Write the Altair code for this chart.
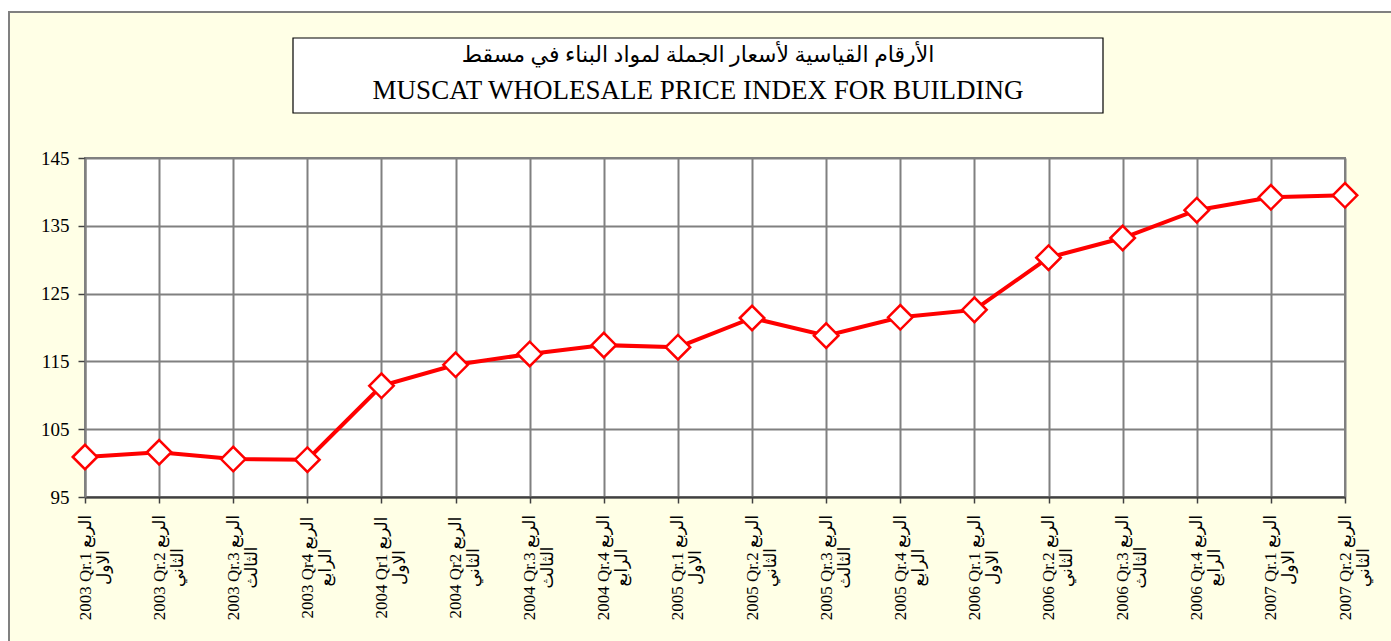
import altair as alt
import pandas as pd

# ---- data ----
periods = [
    "2003 Qr.1", "2003 Qr.2", "2003 Qr.3", "2003 Qr4",
    "2004 Qr1", "2004 Qr2", "2004 Qr.3", "2004 Qr.4",
    "2005 Qr.1", "2005 Qr.2", "2005 Qr.3", "2005 Qr.4",
    "2006 Qr.1", "2006 Qr.2", "2006 Qr.3", "2006 Qr.4",
    "2007 Qr.1", "2007 Qr.2",
]
quarters_ar = [
    "الاول", "الثاني", "الثالث", "الرابع",
    "الاول", "الثاني", "الثالث", "الرابع",
    "الاول", "الثاني", "الثالث", "الرابع",
    "الاول", "الثاني", "الثالث", "الرابع",
    "الاول", "الثاني",
]
values = [
    100.9, 101.6, 100.6, 100.5,
    111.4, 114.5, 116.1, 117.4,
    117.1, 121.4, 118.8, 121.5,
    122.6, 130.3, 133.2, 137.3,
    139.2, 139.5,
]
y_ticks = [95, 105, 115, 125, 135, 145]
title_ar = "الأرقام القياسية لأسعار الجملة  لمواد البناء في مسقط"
title_en = "MUSCAT WHOLESALE PRICE INDEX FOR BUILDING"

labels = [f"{p} الربع|{q}" for p, q in zip(periods, quarters_ar)]
df = pd.DataFrame({"label": labels, "value": values})

FONT = "Liberation Serif, Times New Roman, DejaVu Sans, serif"
one = alt.Data(values=[{}])

x_enc = alt.X(
    "label:N", sort=None,
    scale=alt.Scale(type="point", padding=0),
    axis=alt.Axis(
        title=None, labelExpr="split(datum.label, '|')",
        labelAngle=270, labelAlign="center", labelBaseline="middle",
        labelPadding=64, labelFontSize=17, labelLineHeight=18,
        labelFont=FONT, labelColor="black", labelOverlap=False,
        tickSize=6, tickColor="#404040", tickWidth=1.5,
        domainColor="#404040", domainWidth=2,
        grid=True, gridColor="#808080", gridWidth=2,
    ),
)
y_enc = alt.Y(
    "value:Q",
    scale=alt.Scale(domain=[95, 145], nice=False, zero=False),
    axis=alt.Axis(
        title=None, values=y_ticks, labelFontSize=19, labelFont=FONT,
        labelColor="black", labelPadding=9, tickSize=7,
        tickColor="#404040", tickWidth=1.5,
        domainColor="#808080", domainWidth=2,
        grid=True, gridColor="#808080", gridWidth=2,
    ),
)

line = alt.Chart(df).mark_line(color="#FF0000", strokeWidth=4).encode(x=x_enc, y=y_enc)
points = alt.Chart(df).mark_point(
    shape="diamond", filled=True, fill="white", stroke="#FF0000",
    strokeWidth=2.5, size=600, opacity=1,
).encode(x=alt.X("label:N", sort=None), y="value:Q")

# decorations: outer frame and title box
frame = alt.Chart(one).mark_rect(fillOpacity=0, stroke="#808080", strokeWidth=2).encode(
    x=alt.value(-76), x2=alt.value(1330), y=alt.value(-146), y2=alt.value(520))
strip_left = alt.Chart(one).mark_rect(fill="white", strokeWidth=0).encode(
    x=alt.value(-90), x2=alt.value(-77), y=alt.value(-170), y2=alt.value(520))
strip_top = alt.Chart(one).mark_rect(fill="white", strokeWidth=0).encode(
    x=alt.value(-90), x2=alt.value(1330), y=alt.value(-170), y2=alt.value(-147))
title_box = alt.Chart(one).mark_rect(fill="white", stroke="black", strokeWidth=1.2).encode(
    x=alt.value(208), x2=alt.value(1018), y=alt.value(-120), y2=alt.value(-45))
t1 = alt.Chart(one).mark_text(font=FONT, fontSize=22, color="black").encode(
    x=alt.value(613), y=alt.value(-103), text=alt.value(title_ar))
t2 = alt.Chart(one).mark_text(font=FONT, fontSize=27, color="black").encode(
    x=alt.value(613), y=alt.value(-67), text=alt.value(title_en))

chart = alt.layer(
    line, points, frame, strip_left, strip_top, title_box, t1, t2
).properties(
    width=1260, height=339,
    padding={"left": 85, "top": 158, "right": 46, "bottom": 144},
    autosize=alt.AutoSizeParams(type="none"),
    background="#FFFFE6",
).configure_view(fill="white", stroke="#808080", strokeWidth=2)

chart.save("out.html", embed_options={"renderer": "svg", "actions": False})
